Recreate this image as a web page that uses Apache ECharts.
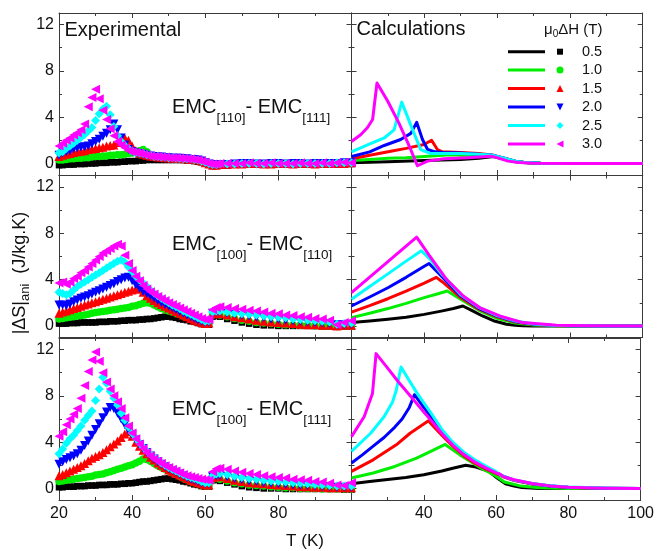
<!DOCTYPE html>
<html>
<head>
<meta charset="utf-8">
<script src="https://cdn.jsdelivr.net/npm/echarts@6/dist/echarts.min.js"></script>
<style>
html,body{margin:0;padding:0;background:#fff;}
#c{width:657px;height:551px;}
</style>
</head>
<body>
<div id="c"></div>
<script>
// Field steps (T) and their colours
const fieldLevels = ['0.5', '1.0', '1.5', '2.0', '2.5', '3.0'];
const fieldColors = ['#000000', '#00ee00', '#ff0000', '#0000ff', '#00ffff', '#ff00ff'];

// Axis ticks
const xTicks = [20, 40, 60, 80, 100];
const yMajor = [0, 4, 8, 12];
const yMinor = [2, 6, 10];

// Measured temperatures (K)
const expT = [20,21,22,23,24,25,26,27,28,29,30,31,32,33,34,35,36,37,38,39,40,41,42,43,44,45,46,47,48,49,50,51,52,53,54,55,56,57,58,59,60,61,62,63,64,66,68,70,72,74,76,78,80,82,84,86,88,90,92,94,96,98,100];

// Experimental |dS|ani, EMC[110] - EMC[111]
const expA_05 = [-0.15,-0.15,-0.1,-0.1,-0.1,-0.05,-0.05,-0.05,0,0, 0,0.05,0.05,0.05,0.1,0.1,0.1,0.15,0.15,0.2, 0.2,0.2,0.25,0.25,0.3,0.3,0.3,0.3,0.3,0.3, 0.3,0.3,0.3,0.3,0.3,0.25,0.25,0.2,0.15,0.1, 0,-0.1,-0.2,-0.2,-0.15, -0.15,-0.1,-0.1,-0.1,-0.1,-0.1,-0.1,-0.1,-0.1,-0.1,-0.1,-0.1,-0.1,-0.1,-0.1,-0.1,-0.05,-0.05];
const expA_10 = [0.3,0.3,0.35,0.4,0.4,0.45,0.45,0.5,0.5,0.55, 0.6,0.6,0.65,0.65,0.7,0.7,0.75,0.75,0.8,0.85, 0.9,1.0,1.1,1.2,1.0,0.7,0.6,0.55,0.5,0.5, 0.45,0.45,0.45,0.4,0.4,0.4,0.35,0.35,0.3,0.2, 0.05,-0.05,-0.15,-0.15,-0.1, -0.1,-0.05,-0.05,-0.05,0,-0.05,-0.05,-0.05,0,-0.05,-0.05,0,-0.05,-0.05,0,-0.05,0,0];
const expA_15 = [0.6,0.7,0.8,0.85,0.95,1.0,1.05,1.1,1.2,1.25, 1.3,1.35,1.4,1.5,1.55,1.6,1.8,2.0,2.2,2.0, 1.5,1.1,0.9,0.8,0.7,0.65,0.6,0.55,0.55,0.5, 0.5,0.45,0.45,0.45,0.4,0.4,0.35,0.35,0.3,0.2, 0.05,-0.05,-0.15,-0.15,-0.1, -0.1,-0.05,-0.05,0,0,-0.05,-0.05,0,0,-0.05,0,0,-0.05,0,0,0,0,0.05];
const expA_20 = [0.7,0.9,1.0,1.1,1.25,1.35,1.4,1.45,1.5,1.7, 1.9,2.1,2.35,2.6,2.9,3.4,2.9,2.2,1.6,1.2, 1.0,0.9,0.85,0.8,0.7,0.65,0.6,0.55,0.55,0.5, 0.5,0.45,0.45,0.45,0.4,0.4,0.35,0.35,0.3,0.2, 0.05,-0.05,-0.15,-0.1,-0.1, -0.1,-0.05,0,0,-0.05,-0.05,0,0,-0.05,0,0,-0.05,0,0,0,0,0.05,0.05];
const expA_25 = [0.9,1.0,1.3,1.5,1.75,2.0,2.25,2.5,2.8,3.1, 3.7,4.3,4.7,4.95,4.2,3.2,2.4,1.9,1.55,1.3, 1.05,0.95,0.9,0.85,0.75,0.7,0.6,0.6,0.55,0.55, 0.5,0.5,0.45,0.45,0.4,0.4,0.4,0.35,0.3,0.2, 0.1,0,-0.1,-0.1,-0.05, -0.05,-0.05,0,0,0,-0.05,0,0,0,-0.05,0,0,0,0,0,0.05,0.05,0.05];
const expA_30 = [1.5,1.75,2.0,2.2,2.45,2.65,2.9,3.4,4.9,5.7, 6.4,5.6,4.6,3.8,3.0,2.4,1.9,1.6,1.35,1.1, 1.0,0.95,0.9,0.8,0.7,0.65,0.6,0.6,0.55,0.55, 0.5,0.5,0.5,0.45,0.45,0.4,0.4,0.35,0.3,0.2, 0.1,0,-0.05,-0.05,0, 0,0,0,0.05,0,0,0.05,0,0,0,0.05,0,0,0.05,0,0.05,0.1,0.05];

// Experimental |dS|ani, EMC[100] - EMC[110]
const expB_05 = [0.2,0.2,0.2,0.25,0.25,0.25,0.3,0.3,0.3,0.3, 0.3,0.35,0.35,0.35,0.4,0.4,0.4,0.45,0.45,0.5, 0.5,0.5,0.55,0.55,0.6,0.6,0.65,0.7,0.75,0.8, 0.8,0.75,0.7,0.6,0.55,0.5,0.4,0.35,0.25,0.15, 0.1,0.1,0.8,0.9,0.8, 0.6,0.45,0.3,0.2,0.1,0.05,0.05,0,0,0,0,0,0,-0.05,-0.05,-0.05,-0.05,-0.05];
const expB_10 = [0.6,0.65,0.7,0.75,0.8,0.85,0.9,0.95,1.0,1.1, 1.15,1.2,1.25,1.3,1.35,1.4,1.45,1.5,1.55,1.6, 1.7,1.75,1.85,1.95,2.0,1.95,1.8,1.65,1.5,1.4, 1.3,1.2,1.1,1.0,0.85,0.75,0.6,0.5,0.4,0.25, 0.15,0.2,0.95,1.0,0.95, 0.8,0.65,0.5,0.4,0.3,0.25,0.2,0.15,0.1,0.1,0.05,0.05,0,0,0,-0.05,0,0];
const expB_15 = [1.1,1.2,1.3,1.4,1.5,1.6,1.7,1.8,1.9,2.0, 2.1,2.2,2.3,2.4,2.5,2.6,2.7,2.8,2.9,3.0, 3.1,3.2,3.2,2.9,2.6,2.4,2.2,2.0,1.85,1.7, 1.55,1.4,1.25,1.1,0.95,0.8,0.65,0.5,0.4,0.3, 0.2,0.25,1.05,1.1,1.05, 0.95,0.8,0.7,0.6,0.5,0.4,0.35,0.3,0.25,0.2,0.15,0.1,0.1,0.05,0.05,0,0.05,0.05];
const expB_20 = [1.8,1.8,1.75,1.9,2.1,2.25,2.4,2.5,2.6,2.75, 2.9,3.05,3.2,3.35,3.5,3.65,3.85,4.0,4.15,4.2, 3.9,3.55,3.25,3.0,2.8,2.6,2.4,2.2,2.0,1.85, 1.7,1.55,1.4,1.25,1.1,0.95,0.8,0.65,0.5,0.4, 0.3,0.35,1.1,1.2,1.2, 1.1,1.0,0.9,0.85,0.75,0.7,0.6,0.55,0.5,0.45,0.4,0.35,0.3,0.25,0.2,0.1,0.1,0.15];
const expB_25 = [2.9,2.8,2.7,2.8,3.1,3.4,3.6,3.8,4.0,4.2, 4.4,4.6,4.8,5.0,5.2,5.4,5.6,5.7,5.5,5.1, 4.7,4.3,4.0,3.7,3.4,3.1,2.85,2.6,2.4,2.2, 2.0,1.8,1.65,1.5,1.3,1.15,1.0,0.85,0.7,0.55, 0.4,0.45,1.2,1.3,1.3, 1.2,1.1,1.05,1.0,0.95,0.85,0.8,0.75,0.7,0.6,0.55,0.5,0.45,0.4,0.35,0.15,0.2,0.25];
const expB_30 = [3.7,3.8,3.6,3.8,4.1,4.3,4.6,4.8,5.1,5.4, 5.7,6.0,6.3,6.5,6.7,6.9,7.05,6.9,6.1,5.4, 4.8,4.3,3.9,3.5,3.2,2.95,2.75,2.55,2.35,2.2, 2.0,1.85,1.7,1.55,1.4,1.25,1.1,0.95,0.8,0.65, 0.55,0.55,1.4,1.6,1.65, 1.6,1.5,1.45,1.35,1.3,1.2,1.1,1.05,0.95,0.9,0.8,0.75,0.65,0.6,0.5,0.1,0.3,0.45];

// Experimental |dS|ani, EMC[100] - EMC[111]
const expC_05 = [0.1,0.1,0.15,0.15,0.15,0.2,0.2,0.2,0.25,0.25, 0.25,0.3,0.3,0.3,0.35,0.35,0.35,0.4,0.4,0.45, 0.45,0.5,0.55,0.6,0.6,0.65,0.7,0.75,0.8,0.85, 0.85,0.8,0.75,0.7,0.6,0.55,0.45,0.35,0.3,0.2, 0.15,0.15,0.7,0.75,0.65, 0.5,0.35,0.2,0.1,0.05,0,0,0,-0.05,-0.05,-0.05,-0.05,-0.05,-0.05,-0.05,-0.05,-0.1,-0.1];
const expC_10 = [0.6,0.65,0.7,0.75,0.8,0.85,0.9,0.95,1.0,1.05, 1.15,1.2,1.25,1.35,1.45,1.55,1.65,1.75,1.85,1.95, 2.05,2.2,2.35,2.55,2.5,2.35,2.15,1.95,1.8,1.65, 1.5,1.35,1.2,1.05,0.9,0.75,0.6,0.5,0.4,0.3, 0.2,0.2,0.8,0.85,0.8, 0.65,0.5,0.4,0.3,0.25,0.2,0.15,0.1,0.05,0.05,0,0,0,-0.05,-0.05,-0.05,-0.05,-0.05];
const expC_15 = [1.1,1.2,1.35,1.5,1.65,1.8,1.95,2.15,2.4,2.6, 2.75,2.9,3.1,3.35,3.6,3.85,4.1,4.4,4.7,4.9, 4.5,4.0,3.65,3.3,3.0,2.7,2.45,2.2,2.0,1.8, 1.6,1.45,1.3,1.15,1.0,0.85,0.7,0.6,0.5,0.4, 0.3,0.3,0.95,1.0,1.0, 0.85,0.7,0.6,0.5,0.45,0.4,0.35,0.3,0.25,0.2,0.15,0.15,0.1,0.1,0.05,0.05,0.05,0.05];
const expC_20 = [2.1,2.3,2.5,2.65,2.8,3.0,3.3,3.7,4.1,4.6, 5.1,5.6,6.1,6.6,7.0,6.9,6.5,6.0,5.5,5.0, 4.6,4.2,3.8,3.45,3.1,2.8,2.55,2.3,2.1,1.9, 1.7,1.55,1.4,1.25,1.1,0.95,0.8,0.7,0.6,0.5, 0.4,0.4,1.0,1.1,1.1, 1.0,0.85,0.75,0.65,0.6,0.5,0.45,0.4,0.35,0.3,0.25,0.25,0.2,0.15,0.15,0.1,0.1,0.1];
const expC_25 = [3.0,3.4,3.9,4.3,4.6,5.0,5.4,5.9,6.3,6.7, 7.6,8.6,9.6,9.1,8.4,7.8,7.2,6.5,5.9,5.3, 4.8,4.35,3.95,3.6,3.25,2.95,2.7,2.45,2.2,2.0, 1.8,1.65,1.5,1.35,1.2,1.05,0.95,0.85,0.75,0.6, 0.5,0.5,1.1,1.25,1.3, 1.2,1.05,0.95,0.85,0.8,0.7,0.65,0.6,0.55,0.5,0.45,0.4,0.35,0.3,0.25,0.2,0.2,0.2];
const expC_30 = [4.5,4.9,5.5,6.0,6.4,6.9,7.8,8.9,10.1,11.1, 11.8,11.0,10.0,9.2,8.6,8.0,7.5,6.9,6.1,5.4, 4.8,4.3,3.85,3.45,3.1,2.8,2.55,2.35,2.15,1.95, 1.8,1.65,1.5,1.35,1.2,1.1,1.0,0.95,0.85,0.8, 0.75,0.7,1.45,1.7,1.75, 1.65,1.5,1.4,1.3,1.2,1.1,1.0,0.95,0.9,0.8,0.75,0.7,0.6,0.55,0.45,0.3,0.25,0.5];

// Calculated curves, EMC[110] - EMC[111]
const calcA_T05 = [20,30,40,45,50,55,59,62,65,68,72,80,90,100];
const calcA_V05 = [0.05,0.15,0.25,0.3,0.35,0.45,0.6,0.35,0.15,0.05,0,0,0,0];
const calcA_T10 = [20,25,30,35,40,45,47,50,55,59,62,65,68,72,80,90,100];
const calcA_V10 = [0.25,0.35,0.45,0.5,0.6,0.7,0.75,0.7,0.68,0.65,0.4,0.18,0.07,0.02,0,0,0];
const calcA_T15 = [20,25,30.8,35,39.9,42,43.6,45,50,55,59,62,65,68,72,80,90,100];
const calcA_V15 = [0.4,0.7,1.06,1.3,1.64,2.0,1.2,1.0,0.95,0.85,0.7,0.45,0.2,0.07,0.02,0,0,0];
const calcA_T20 = [20,25,29,33.5,36.3,37.9,39.5,40.9,43,45,50,55,59,62,65,68,72,80,90,100];
const calcA_V20 = [0.6,1.0,1.55,2.07,2.6,3.55,2.07,1.2,1.0,0.95,0.9,0.8,0.7,0.45,0.2,0.07,0.02,0,0,0];
const calcA_T25 = [20,24.4,29,31.7,33.8,36.8,39,41.8,45,50,55,59,62,65,68,72,80,90,100];
const calcA_V25 = [1.0,1.6,2.2,2.9,5.3,2.9,1.2,0.85,0.85,0.85,0.8,0.7,0.45,0.2,0.07,0.02,0,0,0];
const calcA_T30 = [20,22.6,24.4,25.8,27,30,33,36,38.1,40.9,45.4,51.9,58.3,60,63,66,70,80,90,100];
const calcA_V30 = [1.9,2.5,3.1,3.8,6.95,5.35,3.5,1.4,-0.2,0.2,0.4,0.5,0.63,0.5,0.2,0.08,0.02,0,0,0];

// Calculated curves, EMC[100] - EMC[110]
const calcB_T05 = [20,25,30,35,40,45,48,50.6,53,56,59,62.6,65,67,70,80,90,100];
const calcB_V05 = [0.29,0.42,0.57,0.75,1.0,1.3,1.5,1.72,1.35,0.86,0.45,0.15,0.05,0.01,0,0,0,0];
const calcB_T10 = [20,25,30,35,40,44,46.3,50,55,60,65,70,75,80,90,100];
const calcB_V10 = [0.72,1.1,1.5,1.95,2.45,2.8,3.02,2.3,1.35,0.65,0.25,0.08,0.02,0,0,0];
const calcB_T15 = [20,25,30,35,40,43.3,45,50,55,60,65,70,75,80,90,100];
const calcB_V15 = [1.2,1.75,2.35,3.0,3.7,4.2,3.8,2.45,1.45,0.78,0.33,0.12,0.04,0.01,0,0];
const calcB_T20 = [20,25,30,35,40,41.3,45,50,55,60,65,70,75,80,90,100];
const calcB_V20 = [1.72,2.5,3.3,4.2,5.15,5.4,4.2,2.6,1.52,0.85,0.38,0.14,0.05,0.01,0,0];
const calcB_T25 = [20,25,30,35,39.2,41.5,45,50,55,60,65,70,75,80,90,100];
const calcB_V25 = [2.3,3.4,4.5,5.6,6.5,5.8,4.4,2.7,1.6,0.9,0.42,0.16,0.06,0.02,0,0];
const calcB_T30 = [20,25,30,35,37.9,41.5,46.1,50.7,55.2,60.7,67.1,76.3,85,100];
const calcB_V30 = [2.88,4.22,5.56,6.9,7.67,6.03,4.03,2.59,1.59,0.86,0.29,0.06,0.01,0];

// Calculated curves, EMC[100] - EMC[111]
const calcC_T05 = [20,25,30,35,40,45,48,51.6,54,58,60.3,62.6,65,67.1,72,80,90,100];
const calcC_V05 = [0.4,0.6,0.78,0.95,1.18,1.5,1.75,2.0,1.88,1.47,0.9,0.4,0.2,0.08,0,0,0,0];
const calcC_T10 = [20,26,32,38,42.5,45.9,50,55.6,59.8,62.3,66.9,72,80,90,100];
const calcC_V10 = [0.9,1.33,1.9,2.62,3.28,3.8,2.9,1.8,1.1,0.55,0.2,0.05,0,0,0];
const calcC_T15 = [20,26,32.4,36.2,41.3,42,45,48,51,54,57,60,62,65,70,75,80,90,100];
const calcC_V15 = [1.47,2.47,3.77,4.77,5.84,5.6,4.6,3.65,2.85,2.2,1.7,1.3,1.0,0.68,0.38,0.2,0.09,0.02,0];
const calcC_T20 = [20,23,26,29,32,34,36,37.4,40,42,45,48,51,54,57,60,62,65,70,75,80,90,100];
const calcC_V20 = [2.2,2.9,3.65,4.4,5.3,6.0,7.0,8.1,7.0,6.2,4.9,3.85,3.0,2.35,1.8,1.38,1.05,0.72,0.4,0.21,0.1,0.02,0];
const calcC_T25 = [20,25.3,29,31.4,32.4,33.7,36,38,40,42,45,48,51,54,57,60,61.5,65,70,75,80,90,100];
const calcC_V25 = [3.2,4.77,6.2,7.5,8.5,10.5,9.3,8.3,7.4,6.5,5.1,4.0,3.15,2.5,1.95,1.45,1.1,0.72,0.42,0.24,0.12,0.03,0];
const calcC_T30 = [20,23.5,25.8,26.8,30,33,36,38,40,42,45,48,51,54,57,60,61,62,65,70,75,80,90,100];
const calcC_V30 = [4.48,6.2,8.2,11.65,10.4,9.2,8.1,7.35,6.6,5.9,4.75,3.75,2.95,2.3,1.8,1.35,1.25,1.02,0.75,0.42,0.22,0.1,0.02,0];

const expPanels = [
  [expA_05, expA_10, expA_15, expA_20, expA_25, expA_30],
  [expB_05, expB_10, expB_15, expB_20, expB_25, expB_30],
  [expC_05, expC_10, expC_15, expC_20, expC_25, expC_30]
];
const calcPanels = [
  [[calcA_T05, calcA_V05], [calcA_T10, calcA_V10], [calcA_T15, calcA_V15], [calcA_T20, calcA_V20], [calcA_T25, calcA_V25], [calcA_T30, calcA_V30]],
  [[calcB_T05, calcB_V05], [calcB_T10, calcB_V10], [calcB_T15, calcB_V15], [calcB_T20, calcB_V20], [calcB_T25, calcB_V25], [calcB_T30, calcB_V30]],
  [[calcC_T05, calcC_V05], [calcC_T10, calcC_V10], [calcC_T15, calcC_V15], [calcC_T20, calcC_V20], [calcC_T25, calcC_V25], [calcC_T30, calcC_V30]]
];
const panelSubs = [['110', '111'], ['100', '110'], ['100', '111']];

// Marker shapes per field step
const markerShape = ['rect', 'circle', 'triangle', 'triangle', 'diamond', 'triangle'];
const markerRotate = [0, 0, 0, 180, 0, 90];
const markerSize = [6.5, 7.5, 9, 9, 9, 9];

const FONT = '"Liberation Sans", Arial, Helvetica, sans-serif';
const AXIS_COLOR = '#3a3a3a';
const TEXT_COLOR = '#111';

const colLeft = [59, 351.5];
const colWidth = [292.5, 291.2];
const rowTop = [13, 175.5, 338];
const rowHeight = 162;

const measureCtx = document.createElement('canvas').getContext('2d');
function textWidth(str, size) {
  measureCtx.font = size + 'px ' + FONT;
  return measureCtx.measureText(str).width;
}

const grids = [], xAxes = [], yAxes = [], series = [];
for (let r = 0; r < 3; r++) {
  for (let c = 0; c < 2; c++) {
    const g = grids.length;
    grids.push({ left: colLeft[c], top: rowTop[r], width: colWidth[c], height: rowHeight, containLabel: false });
    const showX = r === 2;
    const xBase = {
      type: 'value', gridIndex: g, min: 20, max: 100, interval: 20,
      axisLine: { show: true, onZero: false, lineStyle: { color: AXIS_COLOR, width: 1 } },
      axisTick: { show: true, inside: true, length: 5, lineStyle: { color: AXIS_COLOR } },
      minorTick: { show: true, splitNumber: 2, length: 3, lineStyle: { color: AXIS_COLOR } },
      splitLine: { show: false }, minorSplitLine: { show: false }
    };
    xAxes.push(Object.assign({}, xBase, {
      position: 'bottom',
      axisLabel: {
        show: showX, margin: 6, fontSize: 16, color: TEXT_COLOR, fontFamily: FONT,
        formatter: v => (c === 0 && v === 100) || (c === 1 && v === 20) ? '' : String(v)
      }
    }));
    xAxes.push(Object.assign({}, xBase, { position: 'top', axisLabel: { show: false } }));

    const yBase = {
      type: 'value', gridIndex: g, min: -1, max: 13,
      splitLine: { show: false }
    };
    const sides = ['left', 'right'];
    for (let s = 0; s < 2; s++) {
      yAxes.push(Object.assign({}, yBase, {
        position: sides[s],
        axisLine: { show: true, onZero: false, lineStyle: { color: AXIS_COLOR, width: 1 } },
        axisTick: { show: true, inside: true, length: 5, customValues: yMajor, lineStyle: { color: AXIS_COLOR } },
        axisLabel: { show: c === 0 && s === 0, customValues: yMajor, margin: 5, fontSize: 16, color: TEXT_COLOR, fontFamily: FONT }
      }));
      yAxes.push(Object.assign({}, yBase, {
        position: sides[s],
        axisLine: { show: false },
        axisTick: { show: true, inside: true, length: 3, customValues: yMinor, lineStyle: { color: AXIS_COLOR } },
        axisLabel: { show: false }
      }));
    }

    for (let k = 0; k < 6; k++) {
      if (c === 0) {
        const vals = expPanels[r][k];
        series.push({
          type: 'scatter', xAxisIndex: g * 2, yAxisIndex: g * 4,
          data: expT.map((t, i) => [t, vals[i]]),
          symbol: markerShape[k], symbolRotate: markerRotate[k], symbolSize: markerSize[k],
          itemStyle: { color: fieldColors[k], opacity: 1 },
          silent: true, z: 2 + k
        });
      } else {
        const [ts, vs] = calcPanels[r][k];
        series.push({
          type: 'line', xAxisIndex: g * 2, yAxisIndex: g * 4,
          data: ts.map((t, i) => [t, vs[i]]),
          showSymbol: false, symbol: 'none', smooth: false,
          lineStyle: { color: fieldColors[k], width: 3, join: 'round' },
          silent: true, z: 2 + k
        });
      }
    }
  }
}

// Text annotations
const graphics = [];
function addText(str, x, y, size, opts) {
  graphics.push(Object.assign({
    type: 'text', x: x, y: y, silent: true, z: 100,
    style: { text: str, font: size + 'px ' + FONT, fill: TEXT_COLOR, align: 'left', verticalAlign: 'middle' }
  }, opts || {}));
}

addText('Experimental', 64.5, 30, 20);
addText('Calculations', 356.5, 29.5, 20);

// Panel labels EMC[a]- EMC[b]
const emcCenters = [107.5, 244.5, 409.5];
for (let r = 0; r < 3; r++) {
  let x = 172;
  const yc = emcCenters[r];
  const pieces = [['EMC', 20, 0], ['[' + panelSubs[r][0] + ']', 13.5, 10.5], ['- EMC', 20, 0], ['[' + panelSubs[r][1] + ']', 13.5, 10.5]];
  pieces.forEach(p => {
    addText(p[0], x, yc + p[2], p[1]);
    x += textWidth(p[0], p[1]);
  });
}

// Y axis title, rotated
(function () {
  const parts = [['|\u0394S|', 18, 0], ['ani', 13, 5.5], ['  (J/kg.K)', 18, 0]];
  const total = parts.reduce((a, p) => a + textWidth(p[0], p[1]), 0);
  let y = 273 + total / 2;
  parts.forEach(p => {
    addText(p[0], 20 + p[2], y, p[1], { rotation: Math.PI / 2 });
    y -= textWidth(p[0], p[1]);
  });
})();

// X axis title
graphics.push({
  type: 'text', x: 305, y: 541.5, silent: true,
  style: { text: 'T (K)', font: '17px ' + FONT, fill: TEXT_COLOR, align: 'center', verticalAlign: 'middle' }
});

// Legend
(function () {
  let x = 544;
  const ty = 30;
  addText('\u03bc', x, ty, 15);
  x += textWidth('\u03bc', 15);
  addText('0', x, ty + 4, 10);
  x += textWidth('0', 10);
  addText('\u0394H (T)', x, ty, 15);

  const rowY = [51.7, 70, 88.5, 107, 125.5, 144];
  const mx = 560, s = 7;
  for (let k = 0; k < 6; k++) {
    const y = rowY[k];
    graphics.push({ type: 'line', silent: true, shape: { x1: 508, y1: y, x2: 545, y2: y }, style: { stroke: fieldColors[k], lineWidth: 3 } });
    let mark;
    if (k === 0) mark = { type: 'rect', shape: { x: mx - 3, y: y - 3, width: 6, height: 6 } };
    else if (k === 1) mark = { type: 'circle', shape: { cx: mx, cy: y, r: 3.5 } };
    else if (k === 2) mark = { type: 'polygon', shape: { points: [[mx, y - s / 2], [mx + s / 2, y + s / 2], [mx - s / 2, y + s / 2]] } };
    else if (k === 3) mark = { type: 'polygon', shape: { points: [[mx, y + s / 2], [mx + s / 2, y - s / 2], [mx - s / 2, y - s / 2]] } };
    else if (k === 4) mark = { type: 'polygon', shape: { points: [[mx, y - s / 2], [mx + s / 2, y], [mx, y + s / 2], [mx - s / 2, y]] } };
    else mark = { type: 'polygon', shape: { points: [[mx - s / 2, y], [mx + s / 2, y - s / 2], [mx + s / 2, y + s / 2]] } };
    mark.silent = true;
    mark.style = { fill: fieldColors[k] };
    graphics.push(mark);
    addText(fieldLevels[k], 582, y, 14.5);
  }
})();

const chart = echarts.init(document.getElementById('c'), null, { renderer: 'canvas', width: 657, height: 551 });
chart.setOption({
  animation: false,
  backgroundColor: '#ffffff',
  grid: grids,
  xAxis: xAxes,
  yAxis: yAxes,
  series: series,
  graphic: graphics
});
</script>
</body>
</html>
